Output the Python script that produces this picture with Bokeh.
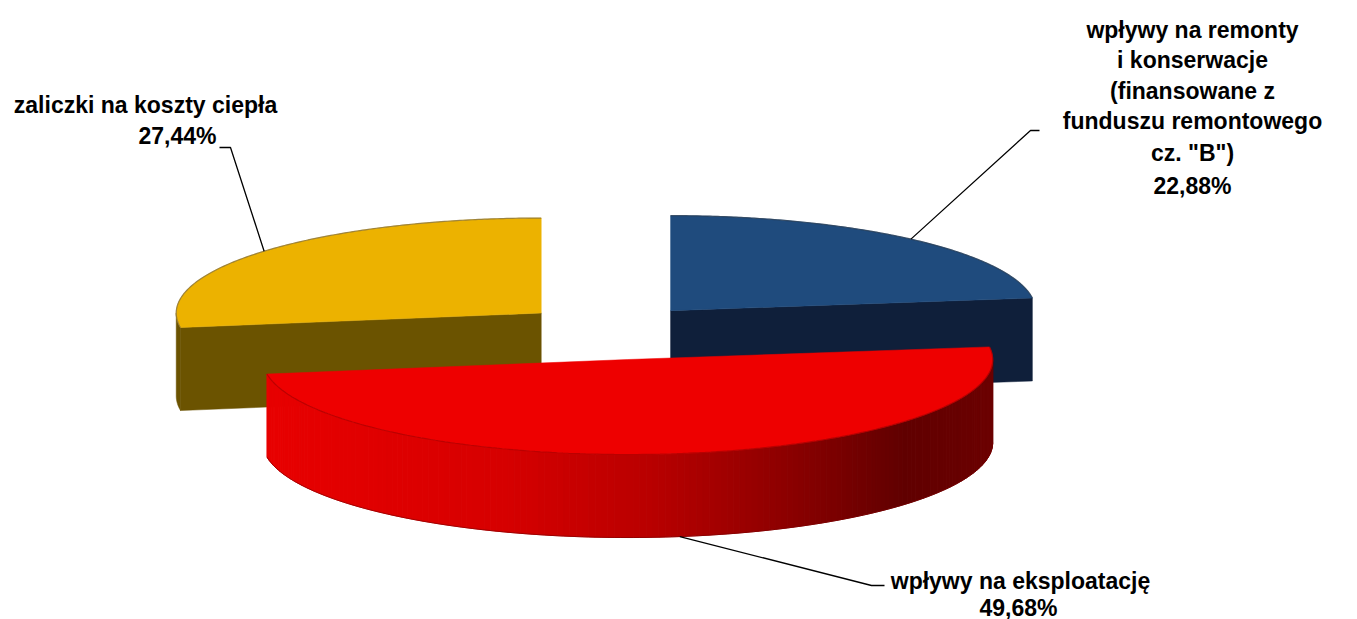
import numpy as np
from bokeh.plotting import figure
from bokeh.models import Range1d, ColumnDataSource
from bokeh.embed import file_html
from bokeh.resources import INLINE
from bokeh.core.properties import value

# ---------------- data (clockwise from 12 o'clock) ----------------
categories = [
    'wpływy na remonty i konserwacje (finansowane z funduszu remontowego cz. "B")',
    'wpływy na eksploatację',
    'zaliczki na koszty ciepła',
]
shares = [22.88, 49.68, 27.44]
pct_labels = ["22,88%", "49,68%", "27,44%"]
label_lines = [
    ["wpływy na remonty", "i konserwacje", "(finansowane z", "funduszu remontowego", 'cz. "B")'],
    ["wpływy na eksploatację"],
    ["zaliczki na koszty ciepła"],
]
top_colors = ["#1F4B7D", "#EE0000", "#ECB200"]
top_edges = ["#2A4057", "#B00000", "#8A7338"]
side_colors = ["#0F1F3A", None, "#6B5300"]
explode = [0.25, 0.33, 0.25]

# ---------------- layout (pixels) ----------------
W, H = 1357, 619
CX, CY = 610.0, 328.0
A, B, D = 365.0, 95.0, 83.0
label_xy = [
    [(1192, 29), (1192, 59), (1192, 90), (1192, 120), (1192, 152), (1192, 185)],
    [(1020, 580), (1018, 607)],
    [(145, 104), (177, 135)],
]
leader_elbow = [((1030, 130), (1039, 130)), ((871, 585), (884, 585)), ((230, 147), (219, 147))]
FONT = "Liberation Sans"
FSIZE = "23px"

p = figure(width=W, height=H, x_range=Range1d(0, W), y_range=Range1d(H, 0),
           output_backend="svg", toolbar_location=None, min_border=0,
           x_axis_location=None, y_axis_location=None)
p.grid.visible = False
p.outline_line_color = None
p.background_fill_color = "white"


def pt(cx, cy, th, dz=0.0):
    r = np.radians(th)
    return cx + A * np.cos(r), cy - B * np.sin(r) + dz


def red_grad(t):
    stops = [(0.0, (232, 0, 0)), (0.33, (214, 0, 0)), (0.53, (185, 0, 0)),
             (0.74, (135, 0, 0)), (0.88, (96, 0, 0)), (1.0, (108, 0, 0))]
    for (t0, c0), (t1, c1) in zip(stops[:-1], stops[1:]):
        if t <= t1:
            f = (t - t0) / (t1 - t0) if t1 > t0 else 0
            c = [int(round(c0[k] + f * (c1[k] - c0[k]))) for k in range(3)]
            return "#%02x%02x%02x" % tuple(c)
    return "#%02x%02x%02x" % stops[-1][1]


# compute slices
slices = []
cum = 0.0
for i, s in enumerate(shares):
    t1 = 90.0 - cum * 3.6
    t2 = t1 - s * 3.6
    cum += s
    mid = (t1 + t2) / 2
    cx = CX + explode[i] * A * np.cos(np.radians(mid))
    cy = CY - explode[i] * B * np.sin(np.radians(mid))
    slices.append(dict(i=i, t1=t1, t2=t2, mid=mid, cx=cx, cy=cy))

for sl in sorted(slices, key=lambda d: d["cy"]):
    i, t1, t2, cx, cy = sl["i"], sl["t1"], sl["t2"], sl["cx"], sl["cy"]
    # cut faces
    for th, vis in ((t1, np.cos(np.radians(t1)) < -1e-6), (t2, np.cos(np.radians(t2)) > 1e-6)):
        if vis:
            rx, ry = pt(cx, cy, th)
            p.patch([cx, rx, rx, cx], [cy, ry, ry + D, cy + D],
                    fill_color=side_colors[i] or "#A00000", line_color=side_colors[i] or "#A00000",
                    line_width=0.5)
    # outer rim side (front half only)
    lo, hi = t2, t1
    for k in range(-2, 2):
        a0, a1 = max(lo, 180 + 360 * k), min(hi, 360 + 360 * k)
        if a1 - a0 <= 0:
            continue
        n = max(4, int((a1 - a0) / 1.0))
        ths = np.linspace(a0, a1, n + 1)
        if side_colors[i] is not None:
            xs_top, ys_top = pt(cx, cy, ths)
            xs = list(xs_top) + list(xs_top[::-1])
            ys = list(ys_top) + list((ys_top + D)[::-1])
            p.patch(xs, ys, fill_color=side_colors[i], line_color=side_colors[i], line_width=0.5)
        else:
            xmin, xmax = cx - A, cx + A
            sx, sy, cols = [], [], []
            for j in range(n):
                xa, ya = pt(cx, cy, ths[j])
                xb, yb = pt(cx, cy, ths[j + 1])
                t = ((xa + xb) / 2 - xmin) / (xmax - xmin)
                sx.append([xa, xb, xb, xa])
                sy.append([ya, yb, yb + D, ya + D])
                cols.append(red_grad(t))
            p.patches(sx, sy, fill_color=cols, line_color=cols, line_width=1)
            xs_b, ys_b = pt(cx, cy, ths, D)
            p.line(xs_b, ys_b, line_color="#7A0000", line_width=1, line_alpha=0.6)
    # top face
    ths = np.linspace(t2, t1, 200)
    ax, ay = pt(cx, cy, ths)
    p.patch([cx] + list(ax), [cy] + list(ay), fill_color=top_colors[i],
            line_color=top_colors[i], line_width=0.5)
    p.line(ax, ay, line_color=top_edges[i], line_width=1.2, line_alpha=0.8)

# leader lines
for sl in slices:
    i, mid, cx, cy = sl["i"], sl["mid"], sl["cx"], sl["cy"]
    front = np.sin(np.radians(mid)) < 0
    sx, sy = pt(cx, cy, mid, D if front else 0.0)
    (ex, ey), (fx, fy) = leader_elbow[i]
    p.line([sx, ex, fx], [sy, ey, fy], line_color="black", line_width=1.3)

# labels
tx, ty, tt = [], [], []
for i in range(len(shares)):
    lines = label_lines[i] + [pct_labels[i]]
    for txt, (x, y) in zip(lines, label_xy[i]):
        tx.append(x)
        ty.append(y)
        tt.append(txt)
src = ColumnDataSource(dict(x=tx, y=ty, text=tt))
p.text(x="x", y="y", text="text", source=src, text_align="center", text_baseline="middle",
       text_font=value(FONT), text_font_style="bold", text_font_size=FSIZE, text_color="black")

open("out.html", "w").write(file_html(p, INLINE))
